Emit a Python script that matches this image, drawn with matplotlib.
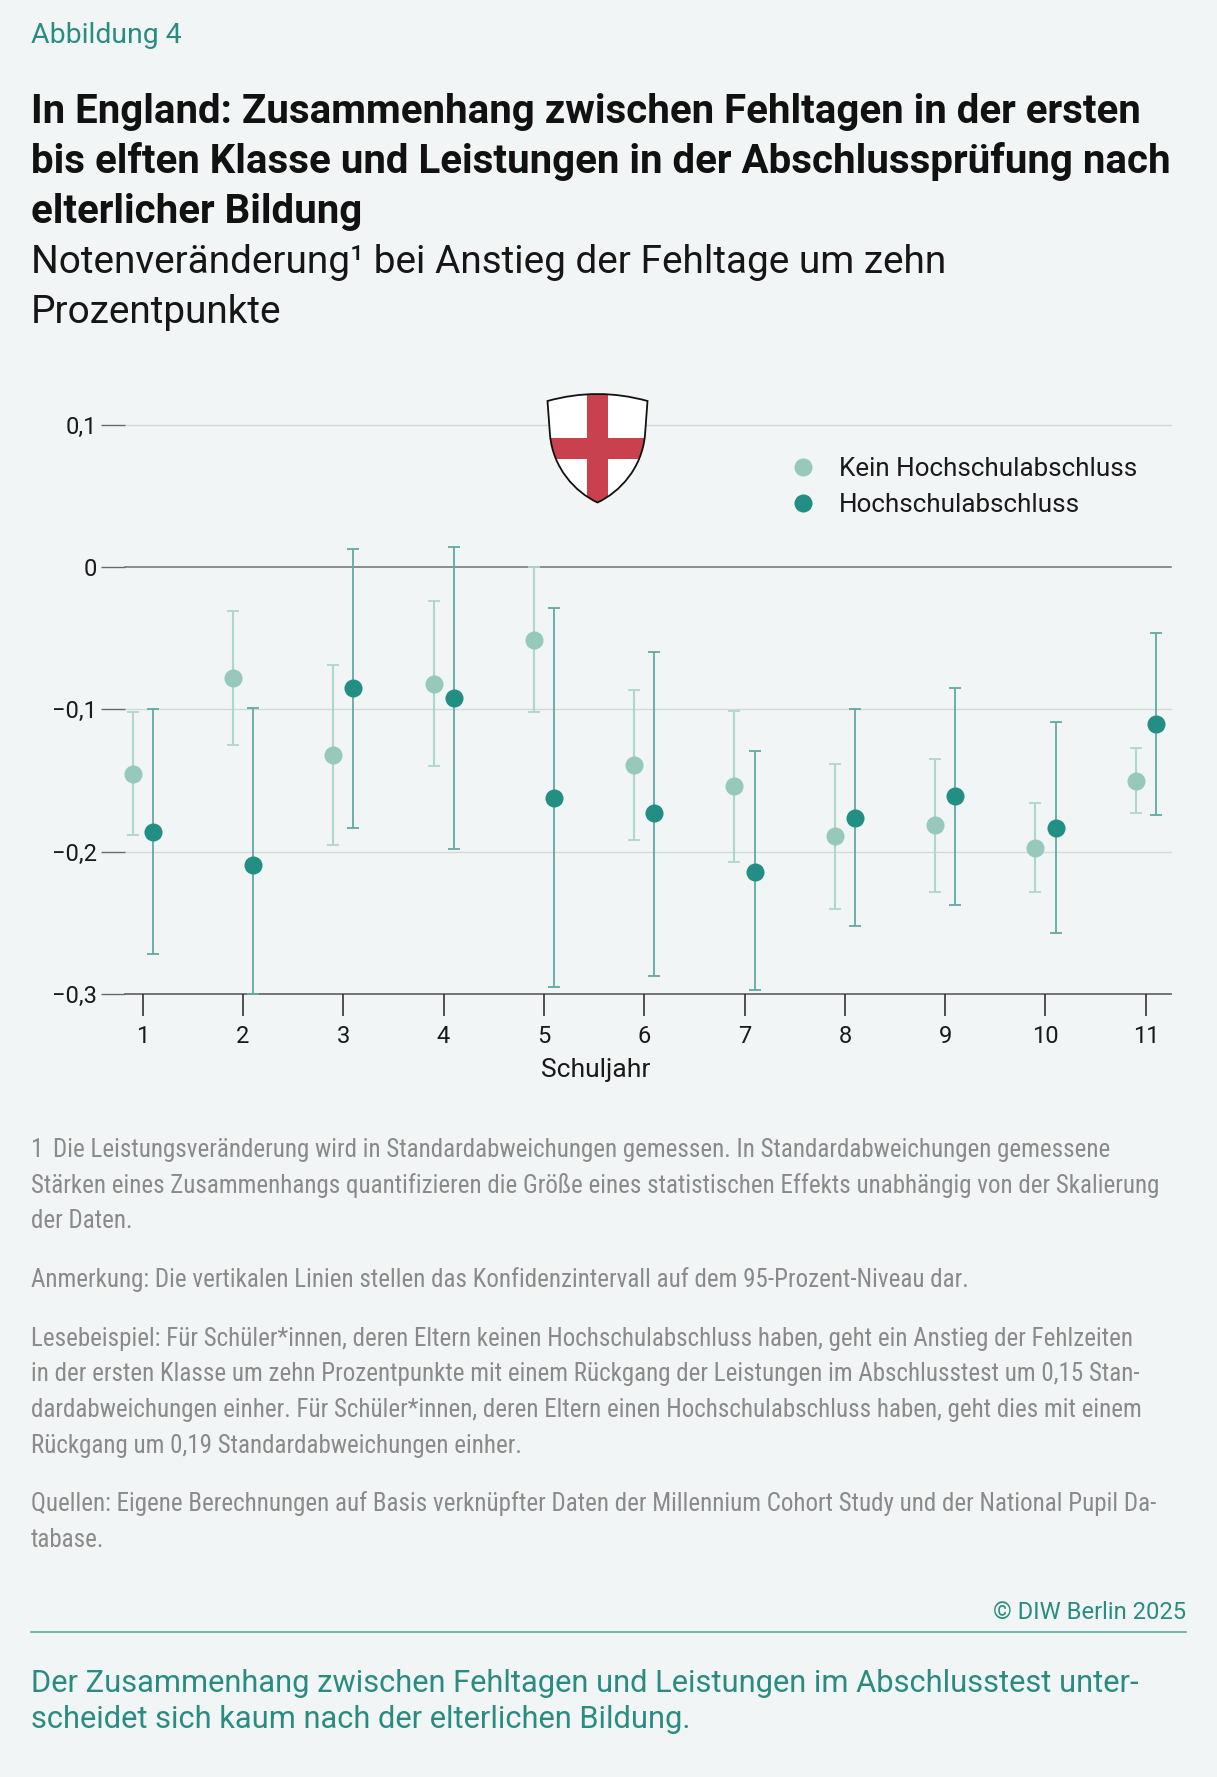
import os, re
import numpy as np
import matplotlib
matplotlib.use("Agg")
import matplotlib.pyplot as plt
from matplotlib import font_manager as fm
from matplotlib.font_manager import FontProperties
from matplotlib.path import Path
from matplotlib.patches import PathPatch, Rectangle
from matplotlib.lines import Line2D
import matplotlib.transforms as mtransforms

# ---------------- data ----------------
years = [1, 2, 3, 4, 5, 6, 7, 8, 9, 10, 11]
year_labels = ["1", "2", "3", "4", "5", "6", "7", "8", "9", "10", "11"]

kein_est = [-0.145, -0.078, -0.132, -0.082, -0.051, -0.139, -0.154, -0.189, -0.181, -0.197, -0.150]
kein_lo = [-0.188, -0.125, -0.195, -0.140, -0.102, -0.192, -0.207, -0.240, -0.228, -0.228, -0.173]
kein_hi = [-0.102, -0.031, -0.069, -0.024, 0.000, -0.086, -0.101, -0.138, -0.135, -0.166, -0.127]

hoch_est = [-0.186, -0.209, -0.085, -0.092, -0.162, -0.173, -0.214, -0.176, -0.161, -0.183, -0.110]
hoch_lo = [-0.272, -0.300, -0.183, -0.198, -0.295, -0.287, -0.297, -0.252, -0.237, -0.257, -0.174]
hoch_hi = [-0.100, -0.099, 0.013, 0.014, -0.029, -0.060, -0.129, -0.100, -0.085, -0.109, -0.046]

series_labels = ["Kein Hochschulabschluss", "Hochschulabschluss"]
y_ticks = [0.1, 0.0, -0.1, -0.2, -0.3]
y_tick_labels = ["0,1", "0", "\u22120,1", "\u22120,2", "\u22120,3"]
x_label = "Schuljahr"

kicker = "Abbildung 4"
title_lines = [
    "In England: Zusammenhang zwischen Fehltagen in der ersten",
    "bis elften Klasse und Leistungen in der Abschlussprüfung nach",
    "elterlicher Bildung",
]
subtitle_lines = [
    "Notenveränderung\u00b9 bei Anstieg der Fehltage um zehn",
    "Prozentpunkte",
]
note1_lines = [
    "Die Leistungsveränderung wird in Standardabweichungen gemessen. In Standardabweichungen gemessene",
    "Stärken eines Zusammenhangs quantifizieren die Größe eines statistischen Effekts unabhängig von der Skalierung",
    "der Daten.",
]
note2_lines = ["Anmerkung: Die vertikalen Linien stellen das Konfidenzintervall auf dem 95-Prozent-Niveau dar."]
note3_lines = [
    "Lesebeispiel: Für Schüler*innen, deren Eltern keinen Hochschulabschluss haben, geht ein Anstieg der Fehlzeiten",
    "in der ersten Klasse um zehn Prozentpunkte mit einem Rückgang der Leistungen im Abschlusstest um 0,15 Stan-",
    "dardabweichungen einher. Für Schüler*innen, deren Eltern einen Hochschulabschluss haben, geht dies mit einem",
    "Rückgang um 0,19 Standardabweichungen einher.",
]
note4_lines = [
    "Quellen: Eigene Berechnungen auf Basis verknüpfter Daten der Millennium Cohort Study und der National Pupil Da-",
    "tabase.",
]
copyright_text = "\u00a9 DIW Berlin 2025"
bottom_lines = [
    "Der Zusammenhang zwischen Fehltagen und Leistungen im Abschlusstest unter-",
    "scheidet sich kaum nach der elterlichen Bildung.",
]

# ---------------- style ----------------
W, H = 1217, 1777
BG = "#f1f5f5"
TEAL = "#2a8c80"
C_KEIN = "#96c8bb"
C_KEIN_BAR = "#aed7cc"
C_HOCH = "#238e84"
C_HOCH_BAR = "#62aaa2"
GRAY_TXT = "#8a8a8a"

plt.rcParams["font.family"] = ["Roboto", "DejaVu Sans"]

fp_reg = FontProperties(family=["Roboto", "DejaVu Sans"], weight="normal")
fp_bold = FontProperties(family=["Roboto", "DejaVu Sans"], weight="bold")


def find_condensed():
    pref = ["Roboto", "OpenSans", "Open Sans", "NotoSans", "Noto Sans", "DejaVu", "Liberation", "Lato", "Inter"]
    cands = []
    for f in fm.fontManager.ttflist:
        base = os.path.basename(f.fname)
        if re.search("Condensed|Narrow", base) and not re.search(
            "Bold|Italic|Oblique|Light|Thin|Medium|Black|Semi|Extra|Heavy", base
        ):
            cands.append(f.fname)
    for p in pref:
        for c in cands:
            if p.replace(" ", "") in os.path.basename(c).replace(" ", ""):
                return FontProperties(fname=c)
    if cands:
        return FontProperties(fname=cands[0])
    return FontProperties(family=["Roboto", "DejaVu Sans"])


fp_cond = find_condensed()

fig = plt.figure(figsize=(W / 100, H / 100), dpi=100, facecolor=BG)
px = mtransforms.Affine2D().scale(1 / W, -1 / H).translate(0, 1) + fig.transFigure


def fx(x):
    return x / W


def fy(y):
    return 1 - y / H


renderer = fig.canvas.get_renderer()


def fit_size(text, fp, target):
    t = fig.text(0, 0, text, fontproperties=fp, fontsize=20)
    w = t.get_window_extent(renderer=renderer).width
    t.remove()
    return 20 * target / w


# ---------------- axes ----------------
ax = fig.add_axes([124.5 / W, 1 - 994.3 / H, (1170.6 - 124.5) / W, (994.3 - 424.6) / H])
ax.set_facecolor("none")
for s in ax.spines.values():
    s.set_visible(False)
ax.set_ylim(-0.3, 0.1)
ax.set_xlim(0.82, 11.247)

for v in [0.1, -0.1, -0.2]:
    ax.axhline(v, color="#d2d9d9", lw=1.0, zorder=0, clip_on=False)
ax.axhline(0.0, color="#707070", lw=1.1, zorder=1, clip_on=False)
ax.axhline(-0.3, color="#6a6a6a", lw=1.3, zorder=1, clip_on=False)

xs = np.array(years, dtype=float)
dx = 0.1
k_est = np.array(kein_est)
h_est = np.array(hoch_est)
ax.errorbar(xs - dx, k_est, yerr=[k_est - np.array(kein_lo), np.array(kein_hi) - k_est],
            fmt="none", ecolor=C_KEIN_BAR, elinewidth=1.5, capsize=4, capthick=1.3, zorder=2, clip_on=False)
ax.errorbar(xs + dx, h_est, yerr=[h_est - np.array(hoch_lo), np.array(hoch_hi) - h_est],
            fmt="none", ecolor=C_HOCH_BAR, elinewidth=1.3, capsize=4, capthick=1.3, zorder=2, clip_on=False)
hk, = ax.plot(xs - dx, k_est, "o", ms=13, color=C_KEIN, mec="none", zorder=3, label=series_labels[0], clip_on=False)
hh, = ax.plot(xs + dx, h_est, "o", ms=13, color=C_HOCH, mec="none", zorder=3, label=series_labels[1], clip_on=False)

ax.set_yticks(y_ticks)
ax.set_yticklabels(y_tick_labels)
ax.set_xticks(years)
ax.set_xticklabels(year_labels)
ax.tick_params(axis="y", length=17, width=1.0, color="#6a6a6a", pad=3, labelsize=17, labelcolor="#1a1a1a")
ax.tick_params(axis="x", length=16, width=1.2, color="#333333", pad=6, labelsize=17, labelcolor="#1a1a1a")
ax.set_xlabel(x_label, fontsize=19, color="#1a1a1a", labelpad=7, x=(596 - 124.5) / (1170.6 - 124.5))

leg_size = fit_size(series_labels[0], fp_reg, 297)
leg = ax.legend(handles=[hk, hh], loc="upper left", bbox_to_anchor=(fx(790), fy(457)),
                bbox_transform=fig.transFigure, frameon=False, borderpad=0, borderaxespad=0,
                handlelength=1.0, handletextpad=0.9, labelspacing=0.45,
                prop=FontProperties(family=["Roboto", "DejaVu Sans"], weight="normal", size=leg_size))
for t in leg.get_texts():
    t.set_color("#1a1a1a")

# ---------------- shield ----------------
verts = [
    (547.5, 401), (597.5, 387), (647.5, 401),
    (645.0, 435),
    (642.0, 468), (620.0, 492), (597.5, 502.5),
    (575.0, 492), (553.0, 468), (550.0, 435),
    (547.5, 401),
]
codes = [Path.MOVETO, Path.CURVE3, Path.CURVE3, Path.LINETO,
         Path.CURVE4, Path.CURVE4, Path.CURVE4,
         Path.CURVE4, Path.CURVE4, Path.CURVE4, Path.CLOSEPOLY]
shield_path = Path(verts, codes)
shield = PathPatch(shield_path, facecolor="white", edgecolor="none", transform=px, zorder=5)
fig.patches.append(shield)
red = "#c9404f"
vbar = Rectangle((587.0, 380), 21.0, 130, facecolor=red, edgecolor="none", transform=px, zorder=6)
hbar = Rectangle((540.0, 437.5), 115.0, 21.5, facecolor=red, edgecolor="none", transform=px, zorder=6)
for r in (vbar, hbar):
    r.set_clip_path(shield)
    fig.patches.append(r)
outline = PathPatch(shield_path, facecolor="none", edgecolor="#111111", lw=1.3, transform=px, zorder=7)
fig.patches.append(outline)

# ---------------- texts ----------------
s = fit_size(kicker, fp_reg, 150)
fig.text(fx(31), fy(43), kicker, fontproperties=fp_reg, fontsize=s, color=TEAL, va="baseline")

s = fit_size(title_lines[0], fp_bold, 1108)
for i, line in enumerate(title_lines):
    fig.text(fx(31), fy(123 + 50 * i), line, fontproperties=fp_bold, fontsize=s, color="#111111", va="baseline")

s = fit_size(subtitle_lines[0], fp_reg, 913)
for i, line in enumerate(subtitle_lines):
    fig.text(fx(31), fy(273 + 50 * i), line, fontproperties=fp_reg, fontsize=s, color="#161616", va="baseline")

ns = fit_size(note1_lines[1], fp_cond, 1127)
fig.text(fx(31), fy(1157), "1", fontproperties=fp_cond, fontsize=ns, color=GRAY_TXT, va="baseline")
fig.text(fx(53), fy(1157), note1_lines[0], fontproperties=fp_cond, fontsize=ns, color=GRAY_TXT, va="baseline")
for i, line in enumerate(note1_lines[1:]):
    fig.text(fx(31), fy(1157 + 35.5 * (i + 1)), line, fontproperties=fp_cond, fontsize=ns, color=GRAY_TXT, va="baseline")
fig.text(fx(31), fy(1286.5), note2_lines[0], fontproperties=fp_cond, fontsize=ns, color=GRAY_TXT, va="baseline")
for i, line in enumerate(note3_lines):
    fig.text(fx(31), fy(1346 + 35.5 * i), line, fontproperties=fp_cond, fontsize=ns, color=GRAY_TXT, va="baseline")
for i, line in enumerate(note4_lines):
    fig.text(fx(31), fy(1511.5 + 35.5 * i), line, fontproperties=fp_cond, fontsize=ns, color=GRAY_TXT, va="baseline")

s = fit_size(copyright_text, fp_reg, 193)
fig.text(fx(1186), fy(1619), copyright_text, fontproperties=fp_reg, fontsize=s, color=TEAL, va="baseline", ha="right")

fig.lines.append(Line2D([31, 1186], [1632, 1632], color="#5fa89f", lw=1.2, transform=px))

s = fit_size(bottom_lines[0], fp_reg, 1103)
for i, line in enumerate(bottom_lines):
    fig.text(fx(31), fy(1692.5 + 36 * i), line, fontproperties=fp_reg, fontsize=s, color=TEAL, va="baseline")

fig.savefig("out.png", dpi=100, facecolor=BG)
